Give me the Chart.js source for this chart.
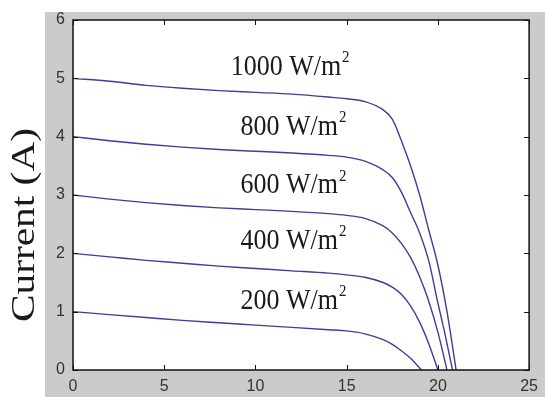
<!DOCTYPE html>
<html>
<head>
<meta charset="utf-8">
<style>
  html, body { margin: 0; padding: 0; background: #fff; }
  #wrap { width: 545px; height: 397px; position: relative; }
</style>
<script src="https://cdn.jsdelivr.net/npm/chart.js@4/dist/chart.umd.min.js"></script>
</head>
<body>
<div id="wrap"><canvas id="ivChart"></canvas></div>
<script>
// I-V curves of a PV module at several irradiance levels
const irradiance = [1000, 800, 600, 400, 200];
const curveLabels = ['1000 W/m', '800 W/m', '600 W/m', '400 W/m', '200 W/m'];

const v1000 = [0, 2, 4, 6, 8, 10, 12, 14, 15, 16, 17, 17.5, 18, 18.5, 19, 19.5, 20, 20.5, 21];
const i1000 = [5.0, 4.95, 4.88, 4.83, 4.79, 4.76, 4.73, 4.68, 4.65, 4.6, 4.46, 4.3, 3.93, 3.5, 3.0, 2.4, 1.8, 1.0, 0];

const v800 = [0, 2, 4, 6, 8, 10, 12, 14, 15, 16, 17, 17.5, 18, 18.5, 19, 19.5, 20, 20.4, 20.8];
const i800 = [4.0, 3.93, 3.87, 3.82, 3.78, 3.75, 3.72, 3.68, 3.65, 3.58, 3.43, 3.3, 3.05, 2.7, 2.35, 1.87, 1.15, 0.6, 0];

const v600 = [0, 2, 4, 6, 8, 10, 12, 14, 15, 16, 17, 17.5, 18, 18.5, 19, 19.5, 20, 20.5];
const i600 = [3.0, 2.93, 2.87, 2.82, 2.78, 2.75, 2.72, 2.68, 2.65, 2.6, 2.47, 2.35, 2.17, 1.93, 1.6, 1.18, 0.65, 0];

const v400 = [0, 2, 4, 6, 8, 10, 12, 14, 15, 16, 17, 17.5, 18, 18.5, 19, 19.5, 20];
const i400 = [2.0, 1.94, 1.88, 1.83, 1.78, 1.74, 1.7, 1.66, 1.63, 1.59, 1.5, 1.42, 1.3, 1.1, 0.82, 0.45, 0];

const v200 = [0, 2, 4, 6, 8, 10, 12, 14, 15, 16, 17, 17.5, 18, 18.5, 19.1];
const i200 = [1.0, 0.95, 0.9, 0.85, 0.81, 0.77, 0.73, 0.69, 0.67, 0.62, 0.52, 0.44, 0.33, 0.2, 0];

const xTicks = [0, 5, 10, 15, 20, 25];
const yTicks = [0, 1, 2, 3, 4, 5, 6];

document.addEventListener('DOMContentLoaded', function() {
  const ctx = document.getElementById('ivChart').getContext('2d');

  const voltages = [v1000, v800, v600, v400, v200];
  const currents = [i1000, i800, i600, i400, i200];

  function toPoints(vs, is) {
    return vs.map((v, k) => ({ x: v, y: is[k] }));
  }

  const datasets = irradiance.map((g, k) => ({
    label: g + ' W/m2',
    data: toPoints(voltages[k], currents[k]),
    borderColor: '#3d3d9c',
    borderWidth: 1.4,
    pointRadius: 0,
    fill: false,
    cubicInterpolationMode: 'monotone'
  }));

  // gray figure background, white axes box
  const backdrop = {
    id: 'backdrop',
    beforeDraw(chart) {
      const c = chart.ctx, a = chart.chartArea;
      c.save();
      c.fillStyle = '#ffffff';
      c.fillRect(0, 0, chart.width, chart.height);
      c.fillStyle = '#cbcbcb';
      c.fillRect(45, 12, chart.width - 45, chart.height - 12);
      c.fillStyle = '#ffffff';
      c.fillRect(a.left, a.top, a.right - a.left, a.bottom - a.top);
      c.restore();
    }
  };

  // matlab-like box with inward ticks, curve labels, y title
  const decorations = {
    id: 'decorations',
    afterDatasetsDraw(chart) {
      const c = chart.ctx, a = chart.chartArea;
      const xs = chart.scales.x, ys = chart.scales.y;
      c.save();
      c.strokeStyle = '#111';
      c.lineWidth = 1.5;
      c.strokeRect(a.left, a.top, a.right - a.left, a.bottom - a.top);
      c.lineWidth = 1;
      c.beginPath();
      xTicks.forEach(t => {
        const px = Math.round(xs.getPixelForValue(t)) + 0.5;
        c.moveTo(px, a.bottom); c.lineTo(px, a.bottom - 5);
        c.moveTo(px, a.top); c.lineTo(px, a.top + 5);
      });
      yTicks.forEach(t => {
        const py = Math.round(ys.getPixelForValue(t)) + 0.5;
        c.moveTo(a.left, py); c.lineTo(a.left + 5, py);
        c.moveTo(a.right, py); c.lineTo(a.right - 5, py);
      });
      c.stroke();

      // irradiance labels
      const labelX = [8.64, 9.18, 9.18, 9.18, 9.18];
      const labelY = [5.06, 4.03, 3.03, 2.08, 1.05];
      c.fillStyle = '#1a1a1a';
      c.textBaseline = 'alphabetic';
      c.textAlign = 'left';
      curveLabels.forEach((txt, k) => {
        const px = xs.getPixelForValue(labelX[k]);
        const py = ys.getPixelForValue(labelY[k]);
        c.save();
        c.translate(px, py);
        c.scale(1, 1.13);
        c.font = '26px "Liberation Serif", "Times New Roman", serif';
        c.fillText(txt, 0, 0);
        const w = c.measureText(txt).width;
        c.font = '15px "Liberation Serif", "Times New Roman", serif';
        c.fillText('2', w + 1, -11);
        c.restore();
      });

      // y axis title, stretched along its length like the source figure
      c.save();
      c.translate(25, 225);
      c.rotate(-Math.PI / 2);
      c.font = '34px "Liberation Serif", "Times New Roman", serif';
      c.textAlign = 'center';
      c.textBaseline = 'middle';
      const title = 'Current (A)';
      const tw = c.measureText(title).width;
      c.scale(194 / tw, 1);
      c.fillStyle = '#1a1a1a';
      c.fillText(title, 0, 0);
      c.restore();

      c.restore();
    }
  };

  new Chart(ctx, {
    type: 'line',
    data: { datasets: datasets },
    options: {
      responsive: true,
      maintainAspectRatio: false,
      animation: false,
      layout: { padding: { top: 20, right: 9, left: 0, bottom: 0 } },
      scales: {
        x: {
          type: 'linear',
          min: 0,
          max: 25,
          afterFit: s => { s.height = 27; },
          afterBuildTicks: s => { s.ticks = xTicks.map(v => ({ value: v })); },
          grid: { display: false, drawTicks: false },
          border: { display: false },
          ticks: {
            padding: 7,
            color: '#333',
            font: { family: '"Liberation Sans", Arial, sans-serif', size: 16 }
          }
        },
        y: {
          type: 'linear',
          min: 0,
          max: 6,
          afterFit: s => { s.width = 73; },
          afterBuildTicks: s => { s.ticks = yTicks.map(v => ({ value: v })); },
          grid: { display: false, drawTicks: false },
          border: { display: false },
          ticks: {
            padding: 8,
            color: '#333',
            font: { family: '"Liberation Sans", Arial, sans-serif', size: 16 }
          }
        }
      },
      plugins: {
        legend: { display: false },
        tooltip: { enabled: false }
      }
    },
    plugins: [backdrop, decorations]
  });
});
</script>
</body>
</html>
